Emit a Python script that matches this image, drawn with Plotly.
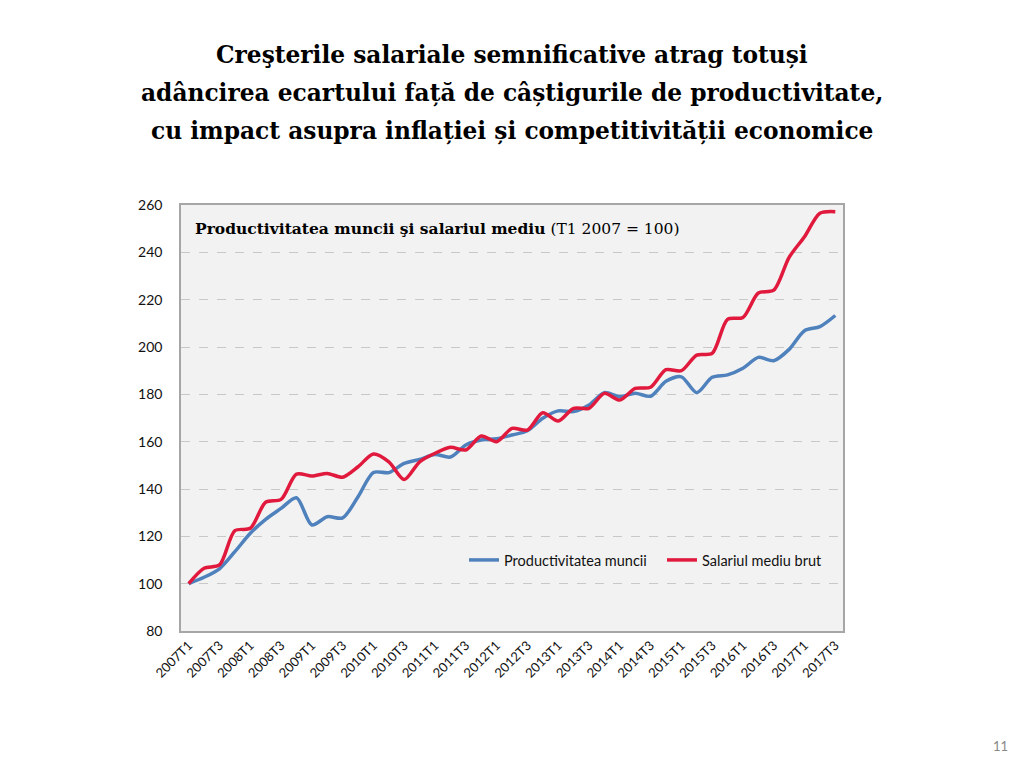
import plotly.graph_objects as go

# ---- data ----
years = list(range(2007, 2018))
quarters = [f"{y}T{q}" for y in years for q in (1, 2, 3, 4)][:43]  # 2007T1 .. 2017T3
tick_labels = quarters[::2]

productivitate = [100, 102.7, 106.3, 113.5, 121.3, 127.2, 131.8, 136.3, 124.8, 128.3,
                  127.8, 136.7, 147.0, 146.9, 150.8, 152.5, 154.6, 153.5, 158.6, 160.7,
                  161.2, 162.8, 164.6, 169.9, 173.0, 172.7, 175.5, 180.7, 179.0, 180.5,
                  179.2, 185.5, 187.4, 180.7, 187.2, 188.2, 191.0, 195.6, 194.2, 199.0,
                  206.9, 208.6, 213.3]
salariu = [100, 106.5, 107.9, 122.4, 123.4, 134.4, 135.6, 146.3, 145.5, 146.6,
           145.0, 149.4, 154.8, 151.5, 144.0, 151.5, 155.1, 157.6, 156.5, 162.4,
           160.0, 165.6, 164.9, 172.2, 168.7, 174.1, 174.1, 180.4, 177.6, 182.5,
           183.0, 190.4, 190.0, 196.6, 197.3, 211.7, 212.5, 222.8, 224.0, 237.9,
           246.6, 256.5, 257.2]
y_ticks = [80, 100, 120, 140, 160, 180, 200, 220, 240, 260]

title_lines = [
    "Creşterile salariale semnificative atrag totuși",
    "adâncirea ecartului față de câștigurile de productivitate,",
    "cu impact asupra inflației și competitivității economice",
]

BLUE = "#4F81BD"
RED = "#E0193D"

W, H = 1024, 768
OFF = 8  # page body margin in the browser
L, R, T, B = 173, 189, 197, 145
PW, PH = W - L - R, H - T - B


def px(X):
    return (X - OFF - L) / PW


def py(Y):
    return (OFF + H - B - Y) / PH


fig = go.Figure()
fig.add_trace(go.Scatter(x=quarters, y=productivitate, name="Productivitatea muncii",
                         mode="lines", line=dict(color=BLUE, width=3.5, shape="spline", smoothing=0.8)))
fig.add_trace(go.Scatter(x=quarters, y=salariu, name="Salariul mediu brut",
                         mode="lines", line=dict(color=RED, width=3.5, shape="spline", smoothing=0.8)))

fig.update_layout(
    width=W, height=H,
    margin=dict(l=L, r=R, t=T, b=B),
    paper_bgcolor="white", plot_bgcolor="#F2F2F2",
    font=dict(family="Lato, Open Sans, sans-serif", size=14, color="#222"),
    showlegend=True,
    legend=dict(orientation="h", x=px(464), y=py(560), xanchor="left", yanchor="middle",
                bgcolor="rgba(0,0,0,0)", font=dict(family="Lato, sans-serif", size=14.5, color="#111"),
                itemwidth=30, entrywidth=153, entrywidthmode="pixels"),
)
fig.update_xaxes(type="category", range=[-0.5, 42.5], tickvals=tick_labels, ticktext=tick_labels,
                 tickangle=-45, tickfont=dict(family="Lato, sans-serif", size=13, color="#111"),
                 showgrid=False, showline=True, linecolor="#A6A6A6", linewidth=1.5, mirror=True,
                 ticks="", zeroline=False)
fig.update_yaxes(range=[80, 260], tickvals=y_ticks, tickfont=dict(family="Lato, sans-serif", size=14, color="#111"),
                 showgrid=True, gridcolor="#C8C8C8", griddash="dash", gridwidth=1,
                 showline=True, linecolor="#A6A6A6", linewidth=1.5, mirror=True,
                 ticks="", ticklabelstandoff=14, zeroline=False)

for i, line in enumerate(title_lines):
    ypix = [55, 93, 131][i]
    fig.add_annotation(text=f"<b>{line}</b>", xref="paper", yref="paper", x=px(512),
                       y=py(ypix), showarrow=False, xanchor="center", yanchor="middle",
                       font=dict(family="DejaVu Serif, serif", size=23.3, color="black"))

fig.add_annotation(text="<b>Productivitatea muncii şi salariul mediu</b> (T1 2007 = 100)",
                   xref="paper", yref="paper", x=px(193), y=py(228),
                   xanchor="left", yanchor="middle", showarrow=False,
                   font=dict(family="DejaVu Serif, serif", size=15.5, color="black"))

fig.add_annotation(text="11", xref="paper", yref="paper",
                   x=px(1001), y=py(746),
                   xanchor="center", yanchor="middle", showarrow=False,
                   font=dict(family="Lato, sans-serif", size=13, color="#888"))

fig.write_html("out.html")
